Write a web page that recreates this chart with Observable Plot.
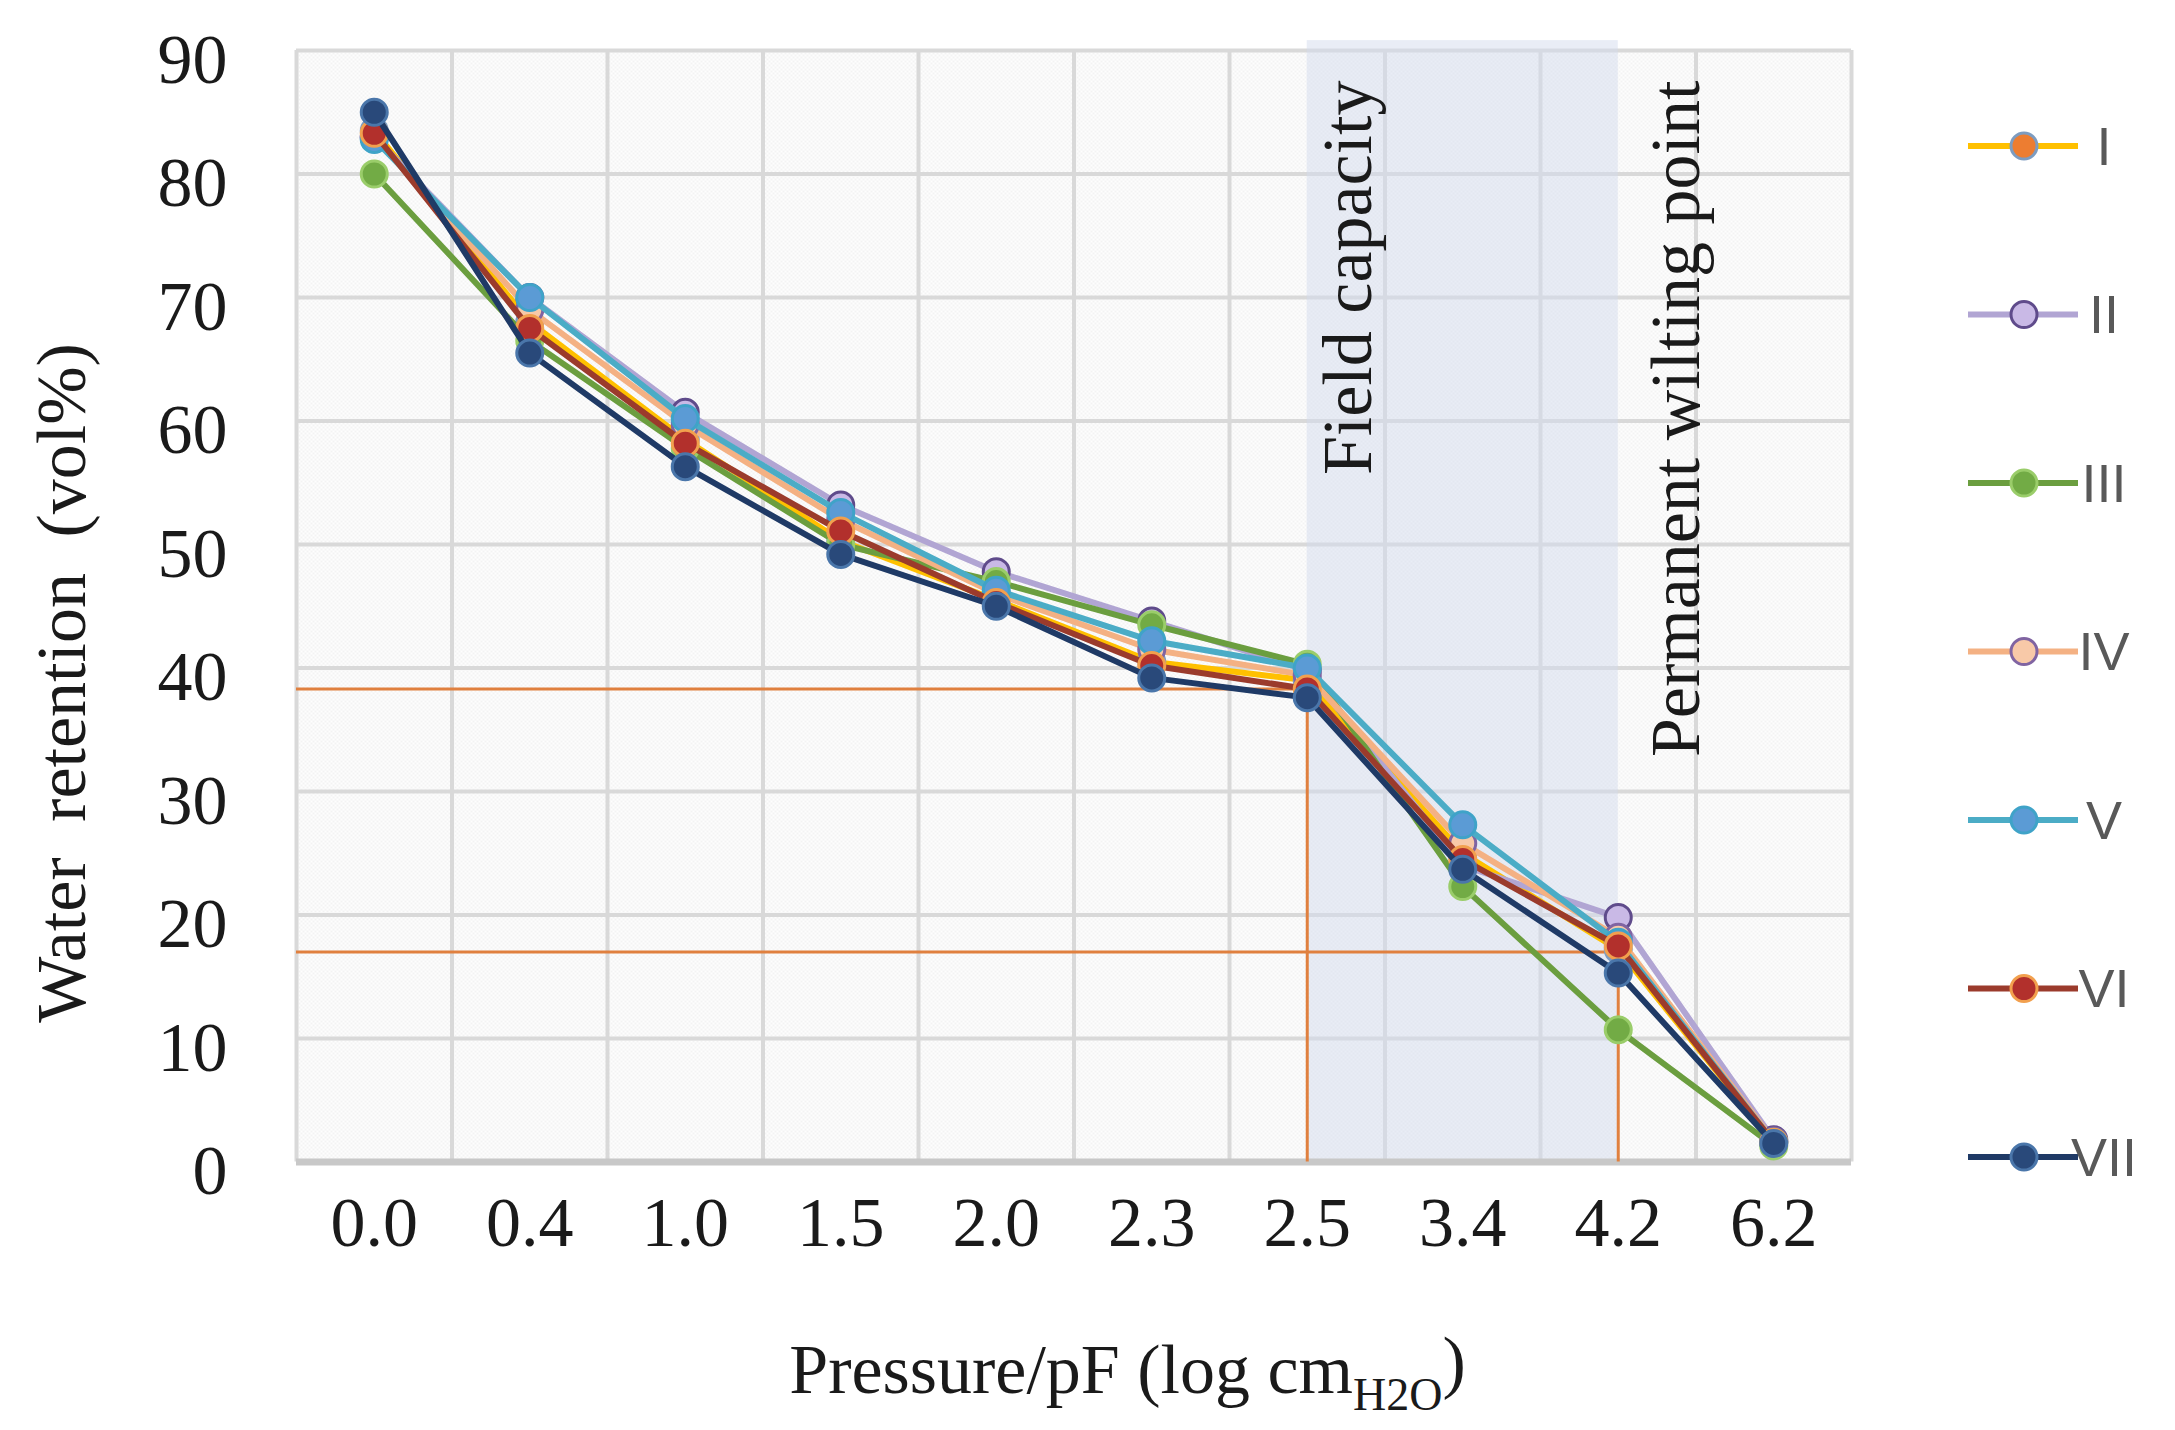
<!DOCTYPE html>
<html><head><meta charset="utf-8">
<script src="https://cdn.jsdelivr.net/npm/d3@7"></script>
<script src="https://cdn.jsdelivr.net/npm/@observablehq/plot@0.6"></script>
<style>
body{margin:0;background:#fff;}
#wrap{width:2175px;height:1430px;}
</style></head><body><div id="wrap"></div>
<script>
// ---- data ----
const categories = ["0.0","0.4","1.0","1.5","2.0","2.3","2.5","3.4","4.2","6.2"];
const seriesNames = ["I","II","III","IV","V","VI","VII"];
const seriesI   = [83.5, 68.0, 58.5, 50.3, 45.5, 40.5, 39.0, 25.0, 17.2, 1.6];
const seriesII  = [83.0, 70.0, 60.7, 53.2, 47.8, 43.8, 39.8, 24.0, 19.8, 1.8];
const seriesIII = [80.0, 66.5, 57.8, 50.0, 47.0, 43.5, 40.3, 22.3, 10.7, 1.3];
const seriesIV  = [83.0, 69.0, 59.7, 52.0, 46.0, 41.5, 39.4, 25.8, 18.2, 1.7];
const seriesV   = [82.8, 70.0, 60.2, 52.6, 46.3, 42.2, 40.0, 27.3, 17.8, 1.6];
const seriesVI  = [83.3, 67.5, 58.2, 51.1, 45.3, 40.2, 38.3, 24.5, 17.5, 1.6];
const seriesVII = [85.0, 65.5, 56.3, 49.2, 45.0, 39.2, 37.6, 23.7, 15.3, 1.5];
const yTicks = [0,10,20,30,40,50,60,70,80,90];
const fieldCapacity = {pF:"2.5", value:38.3, label:"Field capacity"};
const wiltingPoint  = {pF:"4.2", value:17.0, label:"Permanent wilting point"};
const xLabel = "Pressure/pF (log cm";
const xLabelSub = "H2O";
const yLabel = "Water retention (vol%)";

// ---- styles ----
const lineColors   = ["#ffc000","#b1a5d3","#6b9e3f","#f4b183","#4bacc6","#9b3b2c","#1f3a66"];
const markerFill   = ["#ed7d31","#c9b9e6","#72ab45","#f8c9a8","#5b9bd5","#b2302c","#29497a"];
const markerStroke = ["#7d9cc0","#5f4b8b","#9acd6a","#8064a2","#3fa3c8","#f2a04e","#4a76aa"];

const allSeries = [seriesI, seriesII, seriesIII, seriesIV, seriesV, seriesVI, seriesVII];
const idx = c => categories.indexOf(c);
const rows = seriesNames.map((s, si) => allSeries[si].map((v, i) => ({s, xi: i, v})));
const edges = categories.map((c, i) => i - 0.5).concat([categories.length - 0.5]);
const serif = "Liberation Serif, Times New Roman, serif";

const seriesMarks = rows.flatMap((data, si) => [
  Plot.line(data, {x: "xi", y: "v", stroke: lineColors[si], strokeWidth: 6}),
  Plot.dot(data, {x: "xi", y: "v", r: 13, fill: markerFill[si], stroke: markerStroke[si], strokeWidth: 3})
]);

const plot = Plot.plot({
  width: 2175, height: 1430,
  marginLeft: 296, marginRight: 324, marginTop: 50, marginBottom: 268.5,
  x: {type: "linear", domain: [-0.5, categories.length - 0.5], axis: null},
  y: {domain: [0, 90], axis: null},
  style: {background: "white", overflow: "visible"},
  marks: [
    Plot.frame({fill: "url(#bgpat)", stroke: "none"}),
    Plot.ruleY(yTicks, {stroke: "#d9d9d9", strokeWidth: 4}),
    Plot.ruleX(edges, {stroke: "#d9d9d9", strokeWidth: 4}),
    Plot.rect([{a: idx(fieldCapacity.pF), b: idx(wiltingPoint.pF)}],
      {x1: "a", x2: "b", y1: 0, y2: 90.8, fill: "#d3dbee", fillOpacity: 0.5}),
    Plot.ruleY([0], {stroke: "#c8c8c8", strokeWidth: 7}),
    // reference lines
    Plot.ruleY([fieldCapacity, wiltingPoint], {y: "value", x1: -0.5, x2: d => idx(d.pF), stroke: "#e0803f", strokeWidth: 3}),
    Plot.ruleX([fieldCapacity, wiltingPoint], {x: d => idx(d.pF), y1: 0, y2: "value", stroke: "#e0803f", strokeWidth: 3}),
    ...seriesMarks,
    // tick labels
    Plot.text(categories, {x: (d, i) => i, text: d => d, frameAnchor: "bottom", dy: 84,
      fontSize: 70, fontFamily: serif, fill: "#1a1a1a"}),
    Plot.text(yTicks, {y: d => d, text: d => String(d), frameAnchor: "left", dx: -69, dy: 10,
      textAnchor: "end", fontSize: 70, fontFamily: serif, fill: "#1a1a1a"}),
    // annotations
    Plot.text([fieldCapacity], {x: d => idx(d.pF), text: "label", frameAnchor: "top",
      dx: 14, dy: 30, rotate: -90, textAnchor: "end", fontSize: 70, fontFamily: serif, fill: "#1a1a1a"}),
    Plot.text([wiltingPoint], {x: d => idx(d.pF), text: "label", frameAnchor: "top",
      dx: 31, dy: 30, rotate: -90, textAnchor: "end", fontSize: 70, fontFamily: serif, fill: "#1a1a1a"})
  ]
});

const svg = d3.select(plot);
// background pattern
const defs = svg.insert("defs", ":first-child");
const pat = defs.append("pattern").attr("id", "bgpat").attr("patternUnits", "userSpaceOnUse")
  .attr("width", 4).attr("height", 4);
pat.append("rect").attr("width", 4).attr("height", 4).attr("fill", "#fefefe");
pat.append("rect").attr("width", 2).attr("height", 2).attr("fill", "#f3f3f3");
pat.append("rect").attr("x", 2).attr("y", 2).attr("width", 2).attr("height", 2).attr("fill", "#f3f3f3");

const xs = plot.scale("x");

// axis titles
const xt = svg.append("text").attr("x", (xs.apply(-0.5) + xs.apply(categories.length - 0.5)) / 2 + 54)
  .attr("y", 1371).attr("dy", "0.32em").attr("text-anchor", "middle")
  .attr("font-family", serif).attr("font-size", 70).attr("fill", "#1a1a1a");
xt.append("tspan").text(xLabel);
xt.append("tspan").attr("font-size", 46).attr("dy", "0.35em").text(xLabelSub);
xt.append("tspan").attr("dy", "-0.35em").attr("font-size", 70).text(")");

svg.append("text").attr("transform", "translate(63,683) rotate(-90)")
  .attr("dy", "0.32em").attr("text-anchor", "middle").attr("word-spacing", 18)
  .attr("font-family", serif).attr("font-size", 70).attr("fill", "#1a1a1a").text(yLabel);

// legend
const lg = svg.append("g");
seriesNames.forEach((s, i) => {
  const cy = 146 + i * 168.5;
  const g = lg.append("g");
  g.append("line").attr("x1", 1968).attr("x2", 2078).attr("y1", cy).attr("y2", cy)
    .attr("stroke", lineColors[i]).attr("stroke-width", 6);
  g.append("circle").attr("cx", 2024).attr("cy", cy).attr("r", 13)
    .attr("fill", markerFill[i]).attr("stroke", markerStroke[i]).attr("stroke-width", 3);
  g.append("text").attr("x", 2104).attr("y", cy).attr("dy", "0.35em")
    .attr("font-family", "Liberation Sans Narrow, Liberation Sans, sans-serif").attr("font-size", 54)
    .attr("fill", "#595959").text(s);
});

document.getElementById("wrap").appendChild(plot);
</script></body></html>
